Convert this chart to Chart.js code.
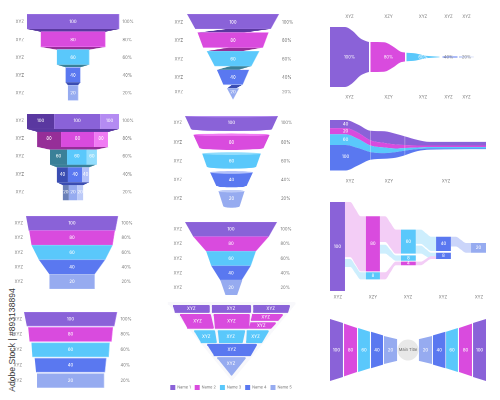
<!DOCTYPE html>
<html><head><meta charset="utf-8">
<style>
html,body{margin:0;padding:0;background:#fff;width:500px;height:400px;overflow:hidden}
canvas{position:absolute;display:block}
#credit{position:absolute;left:12px;top:340px;width:0;height:0;white-space:nowrap}
#credit span{position:absolute;transform:translate(-50%,-50%) rotate(-90deg);font:8.6px "Liberation Sans",sans-serif;color:#3a3a3a}
</style>
<script src="https://cdn.jsdelivr.net/npm/chart.js@4/dist/chart.umd.min.js"></script>
</head><body>
<div id="credit"><span>Adobe Stock | #893138894</span></div>
<script>
/* ---------- labels ---------- */
const flowValues = ['100','80','60','40','20'];
const percentLabels = ['100%','80%','60%','40%','20%'];
const rowNames = ['XYZ','XYZ','XYZ','XYZ','XYZ'];
const columnNames = ['XYZ','XZY','XYZ','XYZ','XYZ'];
const streamColumns = ['XYZ','XZY','XYZ'];
const legendNames = ['Name 1','Name 2','Name 3','Name 4','Name 5'];
const centreTitle = 'Main Title';

/* ---------- funnel widths, % of the widest bar ---------- */
const stepWidths = [100,70,35,16,11];
const splitEdges = [[100,41,59,100],[78,26,46,76],[50,13,30,52],[35,11,20,35],[22,9,9,22]];
const taperTop = [100,93,88,72,49];
const taperBottom = [94,88,72,49,49];
const gapTop = [100,91,84,77,72];
const gapBottom = [94,88,82,74,72];
const twistTop = [100,77,57,35,13];
const twistBottom = [82,65,40,21,0];
const coneTop = [100,82,63,46,28];
const coneBottom = [87,69,53,33,18];
const neckEdges = [100,82,54,43,23,12];

/* ---------- nested triangle cells: left/right at top, left/right at bottom, top, bottom ---------- */
const treeCells = [
 [0,-100,-36,-97,-36,0,11],[0,-34,34,-34,34,0,11],[0,36,100,36,97,0,11],
 [1,-88,-34,-76,-29,12.5,33],[1,-31,32,-29,31,12.5,33],[1,34,88,32,81,12.5,22],[1,31,76,29,69,24,33],
 [2,-64,-27,-53,-24,35,53],[2,-24,24,-22,20,35,53],[2,25,64,24,53,35,53],
 [3,-42,44,-31,34,54,71]];
const treeApex = [-25,25,72.5,99];

/* ---------- flow funnel: half thickness (%) along the flow ---------- */
const flowX = [[0,10,15,20,24,26],[27,36,42,47,50],[51,57,63,73],[75,85],[86,96]];
const flowHalf = [[100,100,87,63,53,50],[50,49,35,18,15],[14,12,5,1],[1.6,1.6],[1.6,0.6]];
const flowLabelX = [13,39,62,79,91];

/* ---------- stacked stream edges along the flow ---------- */
const streamX = [0,10,18,26,35,42,48,56,64,100];
const streamEdge0 = [0,0,9,21,22,27,32,39,43,43];
const streamEdge1 = [16,16,25,40,45,48,49,50,50,50];
const streamEdge2 = [28,28,37,50,54,56,55,54,53,53];
const streamEdge3 = [49,49,55,63,65,63,60,57,56,56];
const streamEdge4 = [99,99,89,78,76,74,69,61,58,57];
const streamLabels = ['40','20','60','100'];

/* ---------- sankey nodes [x0,x1,y0,y1] and links [x0,x1,from0,from1,to0,to1] ---------- */
const sankeyNodes = [
 [0,9.6,0,100,0,'100'],[23,32,16,78,1,'80'],[23,32,79,87,2,'8'],
 [45.5,55,31,58,2,'60'],[45.5,55,60,66,2,'8'],[45.5,55,67,71,1,'4'],
 [68,77.5,39,55,3,'40'],[68,77.5,57,64,3,'8'],[90.4,100,46,57,4,'20']];
const sankeyLinks = [
 [9.6,23,0,62,16,78,1],[9.6,23,64,73,79,87,2],
 [32,45.5,16,45,31,58,1],[32,45.5,48,58,60,66,2],[32,45.5,79,87,67,71,1],
 [55,68,31,47,39,55,2],[55,68,49,58,57,64,2],[55,68,67,71,61,64,1],
 [77.5,90.4,39,50,46,57,3]];

/* ---------- bow tie: start, end, start height, end height ---------- */
const bowLeft = [[0,8.3,100,87],[9,17.3,85,71],[18,25.6,71,59],[26.3,34,59,47],[34.6,43,45,35]];
const bowRight = [[57,65.4,35,45],[66,74,47,59],[74.4,82,59,71],[82.7,91,71,85],[91.7,100,87,100]];

/* ---------- colours ---------- */
const base = ['#8A62D8','#D94BDE','#5AC8FB','#5A78F0','#96ABF0'];
const dark = ['#5A38A0','#962E98','#3A8098','#3A4DB2','#6A80B8'];
const light = ['#B48BF2','#F07AF3','#92DDFD','#B3C1FA','#BCCAF8'];
const pale = ['#D8C9F3','#F3CDF6','#CDEEFD','#CBD5FA','#CBD6FA'];
const labelGrey = '#777777';
const FONT = 'Inter';

/* ---------- helpers ---------- */
function poly(pts, color, opt){ opt = opt||{};
  return {data:pts.map(p=>({x:p[0],y:p[1]})), backgroundColor:color, fill:'shape', tension:0,
    borderWidth:opt.w||0, borderColor:opt.line||color, borderJoinStyle:'round', pointRadius:0, clip:false};
}
function band(xs, up, low, color){
  const mk=(ys,f)=>({data:xs.map((x,i)=>({x,y:ys[i]})), backgroundColor:color, fill:f, borderWidth:0,
    cubicInterpolationMode:'monotone', pointRadius:0, clip:false});
  return [mk(up,'+1'), mk(low,false)];
}
function arc(cx,cy,rx,ry,a0,a1,n){ const o=[];
  for(let i=0;i<=n;i++){const a=a0+(a1-a0)*i/n; o.push([cx+rx*Math.cos(a),cy+ry*Math.sin(a)]);}
  return o;
}
function trap(tw,bw,y0,y1){ return [[-tw,y0],[tw,y0],[bw,y1],[-bw,y1]]; }
function yAxis(pos,ticks,labels,w,pad,yr){ return {type:'linear',position:pos,min:yr[0],max:yr[1],reverse:true,
  grid:{display:false,drawTicks:false},border:{display:false},
  ticks:{autoSkip:false,padding:pad,color:labelGrey,font:{family:FONT,size:4.2},maxRotation:0,minRotation:0,callback:(v,i)=>labels[i]},
  afterBuildTicks:s=>{s.ticks=ticks.map(value=>({value}));},
  afterFit:s=>{s.width=w;s.paddingTop=0;s.paddingBottom=0;}};
}
function xAxis(pos,ticks,labels,h,pad,xr){ return {type:'linear',position:pos,min:xr[0],max:xr[1],
  grid:{display:false,drawTicks:false},border:{display:false},
  ticks:{autoSkip:false,padding:pad,color:labelGrey,font:{family:FONT,size:4.2},maxRotation:0,minRotation:0,callback:(v,i)=>labels[i]},
  afterBuildTicks:s=>{s.ticks=ticks.map(value=>({value}));},
  afterFit:s=>{s.height=h;s.paddingLeft=0;s.paddingRight=0;}};
}
function textPlugin(items){ return {id:'markText',afterDatasetsDraw(chart){
  const c=chart.ctx; c.save(); c.textAlign='center'; c.textBaseline='middle';
  for(const t of items){ c.font=(t.weight||500)+' '+(t.size||4.2)+'px '+FONT; c.fillStyle=t.color||'#fff';
    c.fillText(t.text, chart.scales.x.getPixelForValue(t.x), chart.scales.y.getPixelForValue(t.y)); }
  c.restore(); }};
}
function panel(p){
  const a=p.axes||{}, lw=a.left?a.left.w:0, rw=a.right?a.right.w:0, th=a.top?a.top.h:0, bh=a.bottom?a.bottom.h:0, lg=p.legendH||0;
  const cv=document.createElement('canvas');
  const W=p.plot[2]-p.plot[0]+lw+rw, H=p.plot[3]-p.plot[1]+th+bh+lg;
  cv.width=W; cv.height=H;
  cv.style.left=(p.plot[0]-lw)+'px'; cv.style.top=(p.plot[1]-th)+'px';
  cv.style.width=W+'px'; cv.style.height=H+'px';
  document.body.appendChild(cv);
  const scales={
    x:a.bottom?xAxis('bottom',a.bottom.t,a.bottom.l,bh,a.bottom.p,p.xr):{type:'linear',display:false,min:p.xr[0],max:p.xr[1]},
    y:a.left?yAxis('left',a.left.t,a.left.l,lw,a.left.p,p.yr):{type:'linear',display:false,min:p.yr[0],max:p.yr[1],reverse:true}};
  if(a.right) scales.yR=yAxis('right',a.right.t,a.right.l,rw,a.right.p,p.yr);
  if(a.top) scales.xT=xAxis('top',a.top.t,a.top.l,th,a.top.p,p.xr);
  p.sets.forEach((d,i)=>{d.order=-i;d.xAxisID='x';d.yAxisID='y';});
  return new Chart(cv,{type:'line',data:{datasets:p.sets},
    options:{responsive:false,animation:false,events:[],devicePixelRatio:2,layout:{padding:0,autoPadding:false},
      scales,plugins:{tooltip:{enabled:false},legend:p.legend||{display:false}}},
    plugins:[textPlugin(p.texts||[])]});
}
const rowIdx=[0,1,2,3,4];
function funnelAxes(tl,tr,lw,lp,rp){ return {
  left:{t:tl,l:rowNames,w:lw,p:lp}, right:{t:tr,l:percentLabels,w:24,p:rp}}; }
const centreTexts=(ys)=>flowValues.map((t,i)=>({x:0,y:ys[i],text:t}));
const shift=(o)=>rowIdx.map(i=>i+o);

/* ---------- 1 stepped funnel ---------- */
{ const f=0.845, sets=[];
  rowIdx.forEach(i=>{ sets.push(poly(trap(stepWidths[i],stepWidths[i],i,i+f),base[i],{w:.6,line:light[i]}));
    if(i<4) sets.push(poly(trap(stepWidths[i],stepWidths[i+1],i+f,i+1),dark[i])); });
  panel({plot:[27,14,119,102.75],xr:[-100,100],yr:[0,5],axes:funnelAxes(shift(.45),shift(.45),27,3,3.5),sets,texts:centreTexts(shift(.45))});
}
/* ---------- 2 split funnel ---------- */
{ const f=0.845, sets=[], texts=[];
  rowIdx.forEach(i=>{ const e=splitEdges[i], n=splitEdges[i+1], xs=[-e[0],-e[1],e[2],e[3]], tones=[dark,base,light];
    [0,1,2].forEach(k=>{ sets.push(poly([[xs[k],i],[xs[k+1],i],[xs[k+1],i+f],[xs[k],i+f]],tones[k][i]));
      texts.push({x:(xs[k]+xs[k+1])/2,y:i+.38,text:flowValues[i]}); });
    if(n){ sets.push(poly(trap(e[0],n[0],i+f,i+1),dark[i])); } });
  panel({plot:[27,114,119,202.75],xr:[-100,100],yr:[0,5],axes:funnelAxes(shift(.38),shift(.38),27,3,3.5),sets,texts});
}
/* ---------- 3 tapered funnel ---------- */
panel({plot:[26,216,118,289],xr:[-100,100],yr:[0,5],axes:funnelAxes(shift(.5),shift(.5),26,3,3.5),
  sets:rowIdx.map(i=>poly(trap(taperTop[i],taperBottom[i],i,i+1),base[i],{w:.5,line:light[i]})),texts:centreTexts(shift(.5))});
/* ---------- 4 separated funnel ---------- */
panel({plot:[24,312,117,389],xr:[-100,100],yr:[0,5],axes:funnelAxes(shift(.46),shift(.46),24,2,3.5),
  sets:rowIdx.map(i=>poly(trap(gapTop[i],gapBottom[i],i,i+.91),base[i],{w:.6,line:light[i]})),texts:centreTexts(shift(.46))});
/* ---------- 5 twisted funnel ---------- */
{ const f=.8, sets=[]; const tk=[.44,1.42,2.42,3.42,4.2];
  rowIdx.forEach(i=>{ if(i<4){ const L=twistTop[i+1], R=twistBottom[i];
      sets.push(poly([[-L,i+1],[-L*.15,i+f],[R,i+f],[R*.3,i+1]],dark[i])); } });
  rowIdx.forEach(i=>{ sets.push(poly(trap(twistTop[i],twistBottom[i],i,i+(i==4?.6:f)),base[i],{w:.4,line:light[i]})); });
  panel({plot:[187,14,279,106.5],xr:[-100,100],yr:[0,5],axes:funnelAxes(tk,tk,22,4,3),sets,texts:centreTexts(tk)});
}
/* ---------- 6 cone funnel ---------- */
{ const sets=[]; const tk=[.37,1.4,2.4,3.4,4.4]; const f=.7;
  rowIdx.forEach(i=>{ const T=coneTop[i],B=coneBottom[i],y0=i,y1=i+(i==4?.78:f);
    sets.push(poly([[T,y0],[-T,y0]].concat(arc(0,y1,B,.1,Math.PI,0,20)),base[i]));
    sets.push(poly(arc(0,y0,T,.07,0,Math.PI*2,36),light[i])); });
  panel({plot:[185,116,278,209.75],xr:[-100,100],yr:[0,5],axes:funnelAxes(tk,tk,24,3,3),sets,texts:centreTexts(tk)});
}
/* ---------- 7 necked funnel ---------- */
panel({plot:[185,222,277,295],xr:[-100,100],yr:[0,5],axes:funnelAxes(shift(.5),shift(.5),24,3,3.5),
  sets:rowIdx.map(i=>poly(trap(neckEdges[i],neckEdges[i+1],i,i+1),base[i],i==4?{w:1.2}:{w:.3,line:light[i]})),texts:centreTexts(shift(.5))});
/* ---------- 8 nested triangle ---------- */
{ const d=1.7,e=1.4, sets=[poly([[-107,-2],[107,-2],[0,104]],'#F8F8FB',{w:3,line:'#F8F8FB'})], texts=[];
  treeCells.forEach(c=>{ const [k,tl,tr,bl,br,t,b]=c;
    sets.push(poly([[tl+d,t+e],[tr-d,t+e],[br-d,b-e],[bl+d,b-e]],base[k],{w:2}));
    texts.push({x:(tl+tr+bl+br)/4,y:(t+b)/2,text:'XYZ'}); });
  const [al,ar,at,ab]=treeApex;
  sets.push(poly([[al+d,at+e],[ar-d,at+e],[0,ab-e]],base[4],{w:2}));
  texts.push({x:0,y:at+9,text:'XYZ'});
  panel({plot:[159,300,303,381],xr:[-122,122],yr:[-6.94,105.6],legendH:19,sets,texts,
    legend:{display:true,position:'bottom',labels:{boxWidth:5,boxHeight:5,padding:4,color:labelGrey,font:{family:FONT,size:3.9},
      generateLabels:()=>legendNames.map((t,i)=>({text:t,fillStyle:base[i],strokeStyle:base[i],lineWidth:0,hidden:false,datasetIndex:i,fontColor:labelGrey}))}}});
}
/* ---------- 9 flow funnel ---------- */
{ const sets=[];
  flowX.forEach((xs,i)=>{ sets.push(...band(xs,flowHalf[i].map(v=>-v),flowHalf[i],base[i])); });
  const tk=flowLabelX;
  panel({plot:[330,27,480,87],xr:[0,100],yr:[-100,100],
    axes:{top:{t:tk,l:columnNames,h:14,p:7.5},bottom:{t:tk,l:columnNames,h:14,p:7.5}},sets,
    texts:percentLabels.map((t,i)=>({x:flowLabelX[i],y:0,text:t,color:i<3?'#fff':'#8a8a8a',weight:400}))});
}
/* ---------- 10 stacked stream ---------- */
{ const sets=[...band(streamX,streamEdge0,streamEdge1,base[0]),...band(streamX,streamEdge1,streamEdge2,base[1]),
    ...band(streamX,streamEdge2,streamEdge3,base[2]),...band(streamX,streamEdge3,streamEdge4,base[3])];
  [26,48].forEach(v=>{ const d=poly([[v,streamEdge0[v==26?3:6]],[v,streamEdge4[v==26?3:6]]],'transparent',{w:.6,line:'rgba(255,255,255,.5)'}); d.fill=false; sets.push(d); });
  panel({plot:[330,120,486,171],xr:[0,100],yr:[0,100],axes:{bottom:{t:[12.8,37.8,74.4],l:streamColumns,h:14,p:7.5}},sets,
    texts:streamLabels.map((t,i)=>({x:10,y:[8,22,39,72][i],text:t}))});
}
/* ---------- 11 sankey ---------- */
{ const sets=[], texts=[];
  sankeyLinks.forEach(l=>{ const [x0,x1,a0,a1,b0,b1,c]=l, d=x1-x0, xs=[x0,x0+.25*d,x0+.5*d,x0+.75*d,x1];
    sets.push(...band(xs,[a0,a0,(a0+b0)/2,b0,b0],[a1,a1,(a1+b1)/2,b1,b1],pale[c])); });
  sankeyNodes.forEach(n=>{ const [x0,x1,y0,y1,c,t]=n;
    sets.push(poly([[x0,y0],[x1,y0],[x1,y1],[x0,y1]],base[c]));
    texts.push({x:(x0+x1)/2,y:(y0+y1)/2,text:t}); });
  panel({plot:[330,202,486,291],xr:[0,100],yr:[0,100],axes:{bottom:{t:[5,27.5,50,72.4,95.5],l:columnNames,h:12,p:3.5}},sets,texts});
}
/* ---------- 12 bow tie ---------- */
{ const sets=[], texts=[];
  const add=(s,c,t)=>{ const [x0,x1,h0,h1]=s;
    sets.push(poly([[x0,50-h0/2],[x1,50-h1/2],[x1,50+h1/2],[x0,50+h0/2]],c));
    texts.push({x:(x0+x1)/2,y:50,text:t}); };
  bowLeft.forEach((s,i)=>add(s,base[i],flowValues[i]));
  bowRight.forEach((s,i)=>add(s,base[4-i],flowValues[4-i]));
  sets.push({data:[{x:50,y:50}],pointRadius:10.5,pointBackgroundColor:'#E8E8E8',pointBorderWidth:0,showLine:false,clip:false});
  texts.push({x:50,y:50,text:centreTitle,color:'#666',weight:400,size:4});
  panel({plot:[330,319,486,381],xr:[0,100],yr:[0,100],sets,texts});
}
</script>
</body></html>
